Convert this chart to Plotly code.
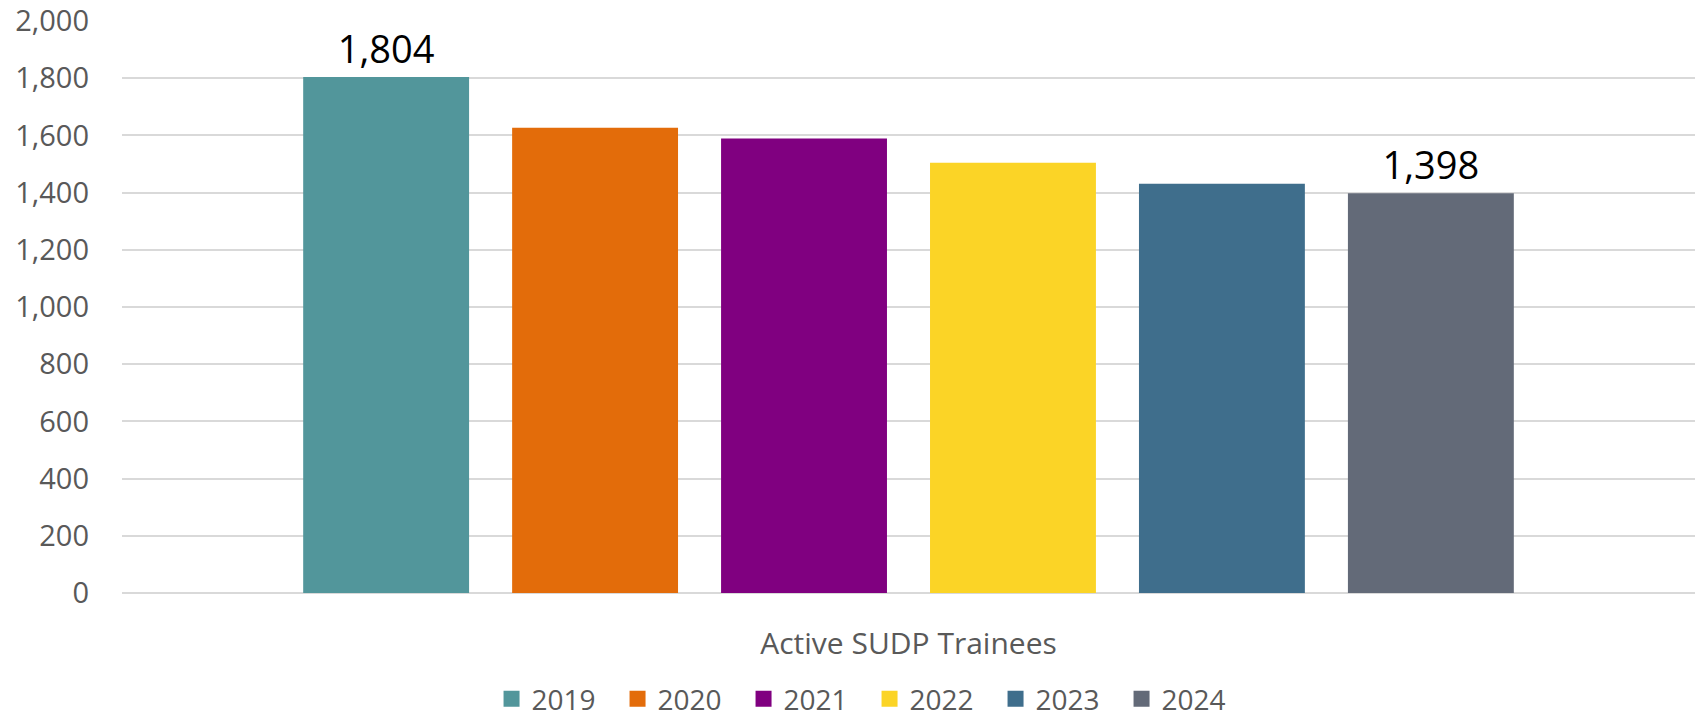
import plotly.graph_objects as go

category = ["Active SUDP Trainees"]
years = ["2019", "2020", "2021", "2022", "2023", "2024"]
values = [1804, 1627, 1589, 1504, 1431, 1398]
show_label = [True, False, False, False, False, True]
colors = ["#52969B", "#E36C0A", "#800080", "#FBD426", "#3F6E8C", "#636A78"]
y_ticks = [0, 200, 400, 600, 800, 1000, 1200, 1400, 1600, 1800, 2000]

FONT = "Open Sans"
W, H = 1696, 718
ml, mr, mt, mb = 122, 1, 21, 125

fig = go.Figure()
for yr, v, lab, c in zip(years, values, show_label, colors):
    fig.add_trace(go.Bar(
        x=category, y=[v], name=yr, marker=dict(color=c, line=dict(width=0)),
        text=[f"{v:,}"] if lab else None,
        textposition="outside",
        textfont=dict(family=FONT, size=38, color="#000000"),
        cliponaxis=False, showlegend=False,
    ))
    fig.add_trace(go.Scatter(
        x=[None], y=[None], mode="markers", name=yr,
        marker=dict(symbol="square", size=21, color=c),
        showlegend=True,
    ))

fig.update_layout(
    width=W, height=H,
    margin=dict(l=ml, r=mr, t=mt, b=mb, pad=0, autoexpand=False),
    paper_bgcolor="white", plot_bgcolor="white",
    barmode="group", bargap=0.203, bargroupgap=0.206,
    font=dict(family=FONT, color="#595959"),
    showlegend=True,
    legend=dict(
        orientation="h", x=806 / W, xanchor="center",
        yref="container", y=1 - 699 / H, yanchor="middle",
        font=dict(family=FONT, size=28, color="#595959"),
        entrywidth=81, entrywidthmode="pixels",
        itemsizing="trace", bgcolor="rgba(0,0,0,0)",
    ),
)
fig.update_yaxes(
    range=[0, 2000], tickvals=y_ticks, tickformat=",",
    showgrid=True, gridcolor="#D9D9D9", gridwidth=1.5,
    zeroline=True, zerolinecolor="#D9D9D9", zerolinewidth=1.5,
    showline=False, ticks="", automargin=False,
    tickfont=dict(family=FONT, size=29, color="#595959"),
    ticklabelstandoff=32,
)
fig.update_xaxes(
    type="category", showgrid=False, showline=False, ticks="",
    automargin=False,
    tickfont=dict(family=FONT, size=30, color="#595959"),
    ticklabelstandoff=30,
)

fig.write_html(
    "out.html",
    config={"displayModeBar": False},
    post_script="document.body.style.margin='0';document.body.style.overflow='hidden';",
)
